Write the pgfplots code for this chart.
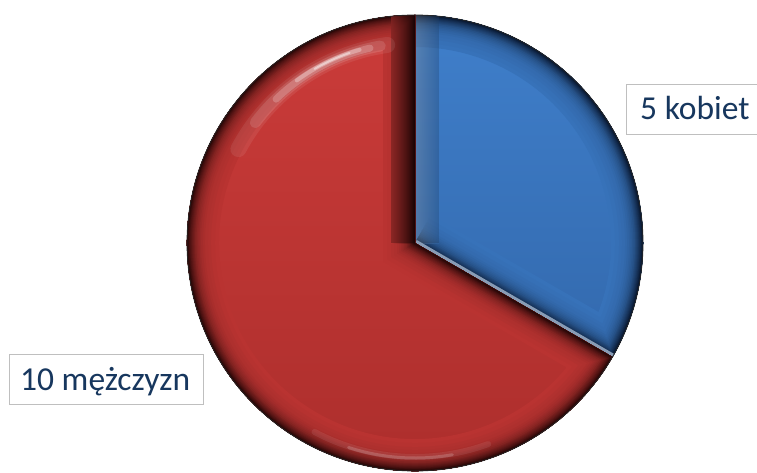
\documentclass[border=0pt]{standalone}
\usepackage{pgfplots}
\pgfplotsset{compat=1.18}
\usepackage{fontspec}
\setmainfont{Carlito}
\definecolor{redtop}{RGB}{204,60,58}
\definecolor{redbot}{RGB}{172,46,44}
\definecolor{redmain}{RGB}{188,52,50}
\definecolor{reddark}{RGB}{30,4,4}
\definecolor{bluetop}{RGB}{64,128,204}
\definecolor{bluebot}{RGB}{50,104,172}
\definecolor{bluemain}{RGB}{56,116,188}
\definecolor{bluedark}{RGB}{6,18,40}
\definecolor{bluelight}{RGB}{136,156,182}
\definecolor{labeltext}{RGB}{23,55,94}
\definecolor{boxgray}{RGB}{191,191,191}
\begin{document}
\begin{tikzpicture}
% data: 5 kobiet, 10 mezczyzn
\pgfmathsetmacro{\vK}{5}
\pgfmathsetmacro{\vM}{10}
\pgfmathsetmacro{\aK}{90-360*\vK/(\vK+\vM)}
\pgfmathsetmacro{\aM}{\aK-360*\vM/(\vK+\vM)}
\begin{axis}[name=ax, scale only axis, width=757pt, height=472pt,
  xmin=0, xmax=757, ymin=0, ymax=472, hide axis, clip=false]
\coordinate (C) at (axis cs:415,229);
\pgfplotsextra{
% blue wedge (kobiety)
\begin{scope}
\clip (C) -- ++(90:228pt) arc[start angle=90, end angle=\aK, radius=228pt] -- cycle;
\shade[top color=bluetop, bottom color=bluebot] (C) ++(-10pt,-130pt) rectangle ++(250pt,370pt);
\foreach \d/\p in {32/98, 28/96, 24/93, 21/91, 18/88, 16/84, 14/80, 12.5/75, 11/70, 9.5/64, 8/57, 7/51, 6/45, 5/38, 4/32, 3.2/26, 2.5/20, 1.8/14, 1.2/8} {
  \draw[line width=2*\d pt, color=bluemain!\p!bluedark, line join=miter, line cap=butt]
    (C) -- ++(\aK:228pt) arc[start angle=\aK, end angle=90, radius=228pt];
}
% lit bevel along the vertical divider
\fill[left color=white, right color=bluemain, opacity=0.18] (C) rectangle ++(24pt,228pt);
\draw[line width=2.5pt, color=bluedark!60!bluemain] (C) -- ++(90:228pt);
\draw[line width=7pt, color=bluelight] (C) -- ++(\aK:228pt);
\end{scope}
% red wedge (mezczyzni)
\begin{scope}
\clip (C) -- ++(\aK:228pt) arc[start angle=\aK, end angle=\aM, radius=228pt] -- cycle;
\shade[top color=redtop, bottom color=redbot] (C) ++(-240pt,-240pt) rectangle ++(480pt,480pt);
\foreach \d/\p in {32/98, 28/96, 24/93, 21/91, 18/88, 16/84, 14/80, 12.5/75, 11/70, 9.5/64, 8/57, 7/51, 6/45, 5/38, 4/32, 3.2/26, 2.5/20, 1.8/14, 1.2/8} {
  \draw[line width=2*\d pt, color=redmain!\p!reddark, line join=miter]
    (C) -- ++(\aK:228pt) arc[start angle=\aK, end angle=\aM, radius=228pt] -- cycle;
}
% deep shadow along the vertical divider
\fill[left color=redmain, right color=reddark, opacity=0.55] (C) ++(-24pt,0) rectangle ++(24pt,228pt);
% highlights on the rim
\draw[line width=16pt, white, opacity=0.08, line cap=round] (C) ++(98:200pt) arc[start angle=98, end angle=152, radius=200pt];
\draw[line width=11pt, white, opacity=0.12, line cap=round] (C) ++(100:200pt) arc[start angle=100, end angle=143, radius=200pt];
\draw[line width=7pt, white, opacity=0.2, line cap=round] (C) ++(103:200pt) arc[start angle=103, end angle=134, radius=200pt];
\draw[line width=4pt, white, opacity=0.3, line cap=round] (C) ++(106:201pt) arc[start angle=106, end angle=126, radius=201pt];
\draw[line width=2pt, white, opacity=0.45, line cap=round] (C) ++(109:201pt) arc[start angle=109, end angle=120, radius=201pt];
\draw[line width=6pt, white, opacity=0.08, line cap=round] (C) ++(242:214pt) arc[start angle=242, end angle=290, radius=214pt];
\draw[line width=3pt, white, opacity=0.18, line cap=round] (C) ++(252:215pt) arc[start angle=252, end angle=280, radius=215pt];
\end{scope}
\draw[black!85, line width=0.8pt] (C) circle (228pt);
}
% labels
\draw[boxgray, fill=white, line width=0.8pt] (axis cs:626,338) rectangle (axis cs:780,388);
\node[anchor=base west, inner sep=0pt, text=labeltext, font=\fontsize{33.5}{40}\selectfont] at (axis cs:640,352) {5 kobiet};
\draw[boxgray, fill=white, line width=0.8pt] (axis cs:9,68) rectangle (axis cs:203,118);
\node[anchor=base west, inner sep=0pt, text=labeltext, font=\fontsize{33.5}{40}\selectfont] at (axis cs:20,82) {10 mężczyzn};
\end{axis}
\pgfresetboundingbox
\path (ax.south west) rectangle (ax.north east);
\end{tikzpicture}
\end{document}
